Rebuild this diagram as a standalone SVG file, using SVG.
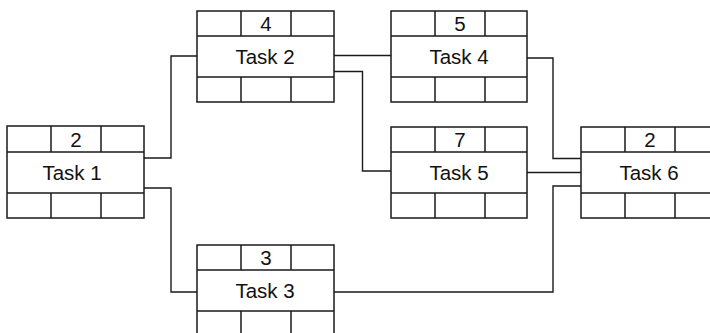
<svg xmlns="http://www.w3.org/2000/svg" width="710" height="333" viewBox="0 0 710 333">
  <style>
    .box { fill: #ffffff; stroke: #1a1a1a; stroke-width: 1.5; }
    .grid { fill: none; stroke: #1a1a1a; stroke-width: 1.5; }
    .link { fill: none; stroke: #1a1a1a; stroke-width: 1.4; }
    .name { font-family: "Liberation Sans", Arial, sans-serif; font-size: 20.5px; fill: #111111; text-anchor: middle; }
    .dur { font-family: "Liberation Sans", Arial, sans-serif; font-size: 20.5px; fill: #111111; text-anchor: middle; }
  </style>
  <rect width="710" height="333" fill="#ffffff"/>

  <!-- dependency links -->
  <g id="connectors">
    <path class="link" d="M144,158 H171 V56 H197"/>
    <path class="link" d="M144,188 H171 V292 H197"/>
    <path class="link" d="M334,55.5 H391"/>
    <path class="link" d="M334,71.5 H362.5 V171 H391"/>
    <path class="link" d="M527,58 H553 V158.5 H581"/>
    <path class="link" d="M527,172.5 H581"/>
    <path class="link" d="M334,292 H553 V186 H581"/>
  </g>

  <!-- task cards: duration on top row, name in the middle, empty bottom row -->
  <g id="task1">
    <rect class="box" x="7" y="126" width="137" height="92"/>
    <path class="grid" d="M7,152 H144 M7,193 H144 M51,126 V152 M101,126 V152 M51,193 V218 M101,193 V218"/>
    <text class="dur" x="76" y="146.5">2</text>
    <text class="name" x="72" y="180">Task 1</text>
  </g>

  <g id="task2">
    <rect class="box" x="197" y="11" width="137" height="91"/>
    <path class="grid" d="M197,36 H334 M197,77 H334 M241,11 V36 M291,11 V36 M241,77 V102 M291,77 V102"/>
    <text class="dur" x="266" y="31">4</text>
    <text class="name" x="265" y="64">Task 2</text>
  </g>

  <g id="task3">
    <rect class="box" x="197" y="245" width="137" height="91"/>
    <path class="grid" d="M197,270 H334 M197,311 H334 M241,245 V270 M291,245 V270 M241,311 V336 M291,311 V336"/>
    <text class="dur" x="266" y="265">3</text>
    <text class="name" x="265" y="298">Task 3</text>
  </g>

  <g id="task4">
    <rect class="box" x="391" y="11" width="136" height="91"/>
    <path class="grid" d="M391,36 H527 M391,77 H527 M435,11 V36 M485,11 V36 M435,77 V102 M485,77 V102"/>
    <text class="dur" x="460" y="31">5</text>
    <text class="name" x="459" y="64">Task 4</text>
  </g>

  <g id="task5">
    <rect class="box" x="391" y="127" width="136" height="91"/>
    <path class="grid" d="M391,152 H527 M391,193 H527 M435,127 V152 M485,127 V152 M435,193 V218 M485,193 V218"/>
    <text class="dur" x="460" y="147">7</text>
    <text class="name" x="459" y="180">Task 5</text>
  </g>

  <g id="task6">
    <rect class="box" x="581" y="127" width="137" height="91"/>
    <path class="grid" d="M581,152 H718 M581,193 H718 M625,127 V152 M675,127 V152 M625,193 V218 M675,193 V218"/>
    <text class="dur" x="650" y="147">2</text>
    <text class="name" x="649" y="180">Task 6</text>
  </g>
</svg>
